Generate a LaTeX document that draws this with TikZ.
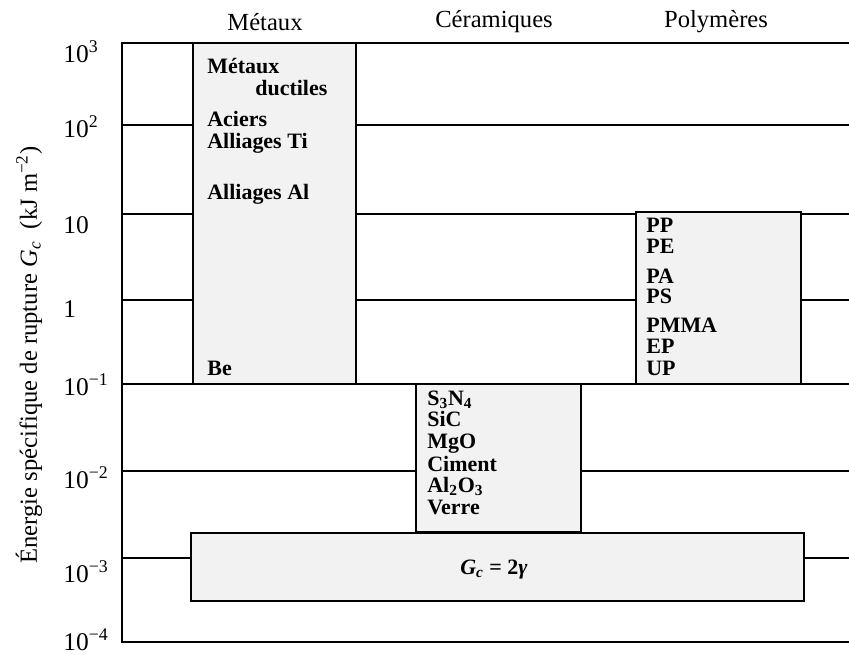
\documentclass[tikz,border=0pt]{standalone}
\usepackage{fontspec}
\setmainfont{Liberation Serif}
\usetikzlibrary{calc}
\tikzstyle{grid}=[draw, line width=0.6pt]
\tikzstyle{frame}=[draw, line width=1.1pt]
\tikzstyle{family}=[draw, line width=1.1pt, fill=black!5]
\tikzstyle{head}=[font=\fontsize{14}{15}\selectfont, anchor=base, inner sep=0pt]
\tikzstyle{tick}=[font=\fontsize{14.5}{15}\selectfont, anchor=base west, inner sep=0pt]
\tikzstyle{grade}=[font=\fontsize{12.5}{13}\selectfont\bfseries, anchor=base west, inner sep=0pt]

\begin{document}
\begin{tikzpicture}[x=0.02cm,y=-0.02cm]
  \useasboundingbox (0,0) rectangle (849,654);

  % decades
  \foreach \y in {125,214,300,384,471,558}
    \draw[grid] (122,\y) -- (849,\y);
  \draw[frame] (849,43) -- (122,43) -- (122,642) -- (849,642);

  \foreach \lab/\y [count=\i] in {10\textsuperscript{3}/62, 10\textsuperscript{2}/137,
      10/233, 1/317, 10\textsuperscript{−1}/395, 10\textsuperscript{−2}/488,
      10\textsuperscript{−3}/582, 10\textsuperscript{−4}/650}
    \node(tick\i)[tick] at (63,\y) {\lab};

  \node(axis)[font=\fontsize{14}{15}\selectfont, rotate=90] at (29,355)
    {Énergie spécifique de rupture \textit{G}\textsubscript{\textit{c}}\ \ (kJ m\textsuperscript{−2})};

  % families
  \node(metaux)[head] at (265,30) {Métaux};
  \node(ceram)[head] at (494,27) {Céramiques};
  \node(polym)[head] at (716,27) {Polymères};

  \draw[family] (193,43) rectangle (356,384);
  \draw[family] (416,384) rectangle (581,532);
  \draw[family] (636,212) rectangle (801,384);
  \draw[family] (191,533) rectangle (804,601);

  % metals
  \node(met)[grade] at (207,73) {Métaux};
  \path(met.base west)+(48,22) node(duct)[grade]{ductiles};
  \node(acier)[grade] at (207,126) {Aciers};
  \path(acier.base west)+(0,22) node(alti)[grade]{Alliages Ti};
  \node(alal)[grade] at (207,199) {Alliages Al};
  \node(be)[grade] at (207,375) {Be};

  % ceramics
  \foreach \lab/\y [count=\i] in {S\textsubscript{3}N\textsubscript{4}/405, SiC/426,
      MgO/448, Ciment/471, Al\textsubscript{2}O\textsubscript{3}/492, Verre/514}
    \node(cer\i)[grade] at (427,\y) {\lab};

  % polymers
  \foreach \lab/\y [count=\i] in {PP/232, PE/253, PA/283, PS/303,
      PMMA/332, EP/353, UP/375}
    \node(pol\i)[grade] at (646,\y) {\lab};

  \node(surf)[grade] at (460,574) {\textit{G}\textsubscript{\textit{c}} = 2\textit{γ}};
\end{tikzpicture}
\end{document}
